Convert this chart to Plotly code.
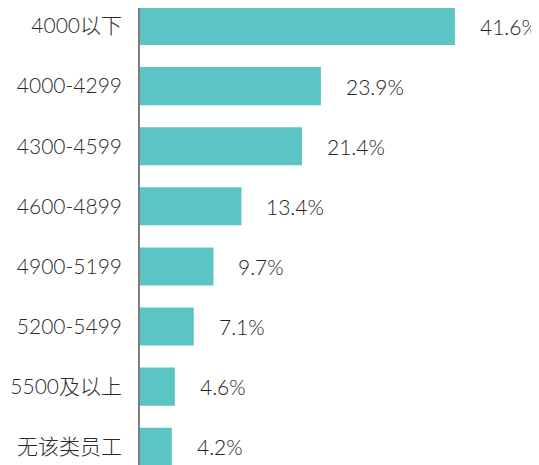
import plotly.graph_objects as go

categories = ["4000以下", "4000-4299", "4300-4599", "4600-4899", "4900-5199", "5200-5499", "5500及以上", "无该类员工"]
values = [41.6, 23.9, 21.4, 13.4, 9.7, 7.1, 4.6, 4.2]
value_labels = ["41.6%", "23.9%", "21.4%", "13.4%", "9.7%", "7.1%", "4.6%", "4.2%"]

FONT = "Lato, 'Noto Sans CJK SC', sans-serif"

fig = go.Figure(go.Bar(
    x=values, y=categories, orientation="h",
    marker=dict(color="#5BC5C6", line=dict(width=0)),
    width=0.633,
))

for c, v, t in zip(categories, values, value_labels):
    fig.add_annotation(x=v, y=c, text=t, showarrow=False, xanchor="left", xshift=23,
                       font=dict(family=FONT, size=21, color="#222222", weight=300))

# page has an 8px body margin, so the plot is offset to compensate
fig.update_layout(
    width=539, height=465,
    margin=dict(l=132, r=0, t=0, b=0, autoexpand=False),
    paper_bgcolor="white", plot_bgcolor="white",
    showlegend=False,
    xaxis=dict(range=[0, 53.76], visible=False, showgrid=False, automargin=False),
    yaxis=dict(range=[7.437, -0.300], type="category", showgrid=False, automargin=False,
               showline=True, linecolor="#7f7f7f", linewidth=1.5,
               ticks="", ticklabelstandoff=12,
               tickfont=dict(family=FONT, size=21, color="#2a2a2a", weight=300)),
)

fig.write_html("out.html")
